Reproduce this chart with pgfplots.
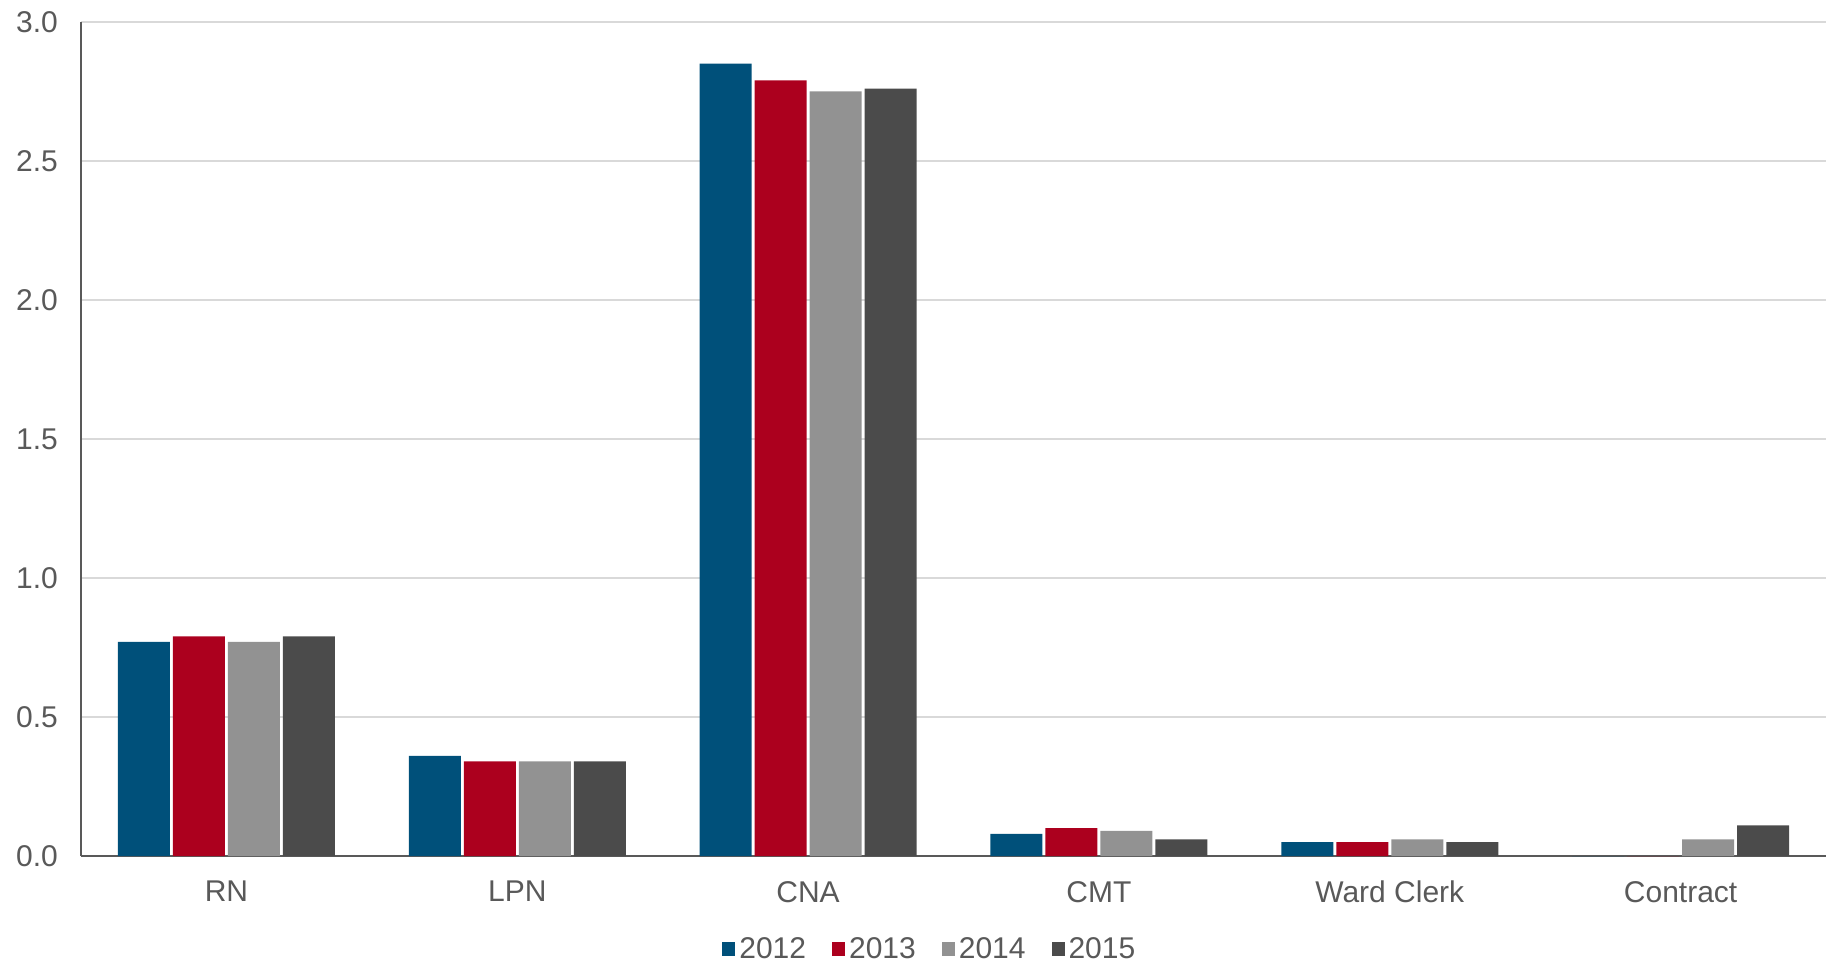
\documentclass[border=0pt]{standalone}
\usepackage{pgfplots}
\pgfplotsset{compat=1.18}
\usepackage{fontspec}
\setmainfont{Liberation Sans}

\definecolor{c2012}{RGB}{0,80,122}
\definecolor{c2013}{RGB}{172,0,30}
\definecolor{c2014}{RGB}{146,146,146}
\definecolor{c2015}{RGB}{75,75,75}
\definecolor{axgray}{RGB}{89,89,89}
\definecolor{gridgray}{RGB}{217,217,217}
\definecolor{txtgray}{RGB}{89,89,89}

\begin{document}
\begin{tikzpicture}
  \begin{axis}[
      at={(0,0)}, anchor=south west,
      scale only axis,
      width=872.5pt, height=417pt,
      ybar=1.5pt,
      bar width=26pt,
      xmin=-0.5, xmax=5.5,
      ymin=0, ymax=3,
      xtick={0,1,2,3,4,5},
      xticklabels={RN,LPN,CNA,CMT,Ward Clerk,Contract},
      ytick={0,0.5,1,1.5,2,2.5,3},
      /pgf/number format/fixed,
      /pgf/number format/fixed zerofill,
      /pgf/number format/precision=1,
      /pgf/number format/assume math mode=true,
      yticklabel style={xshift=-8pt},
      xticklabel style={yshift=-9pt},
      major tick length=0pt,
      tick style={draw=none},
      axis x line*=bottom,
      axis y line*=left,
      axis line style={draw=axgray, line width=1pt},
      ymajorgrids,
      grid style={draw=gridgray, line width=0.6pt},
      tick label style={font=\fontsize{15}{17}\selectfont, text=txtgray},
      legend columns=4,
      legend style={at={(0.487,-0.112)}, anchor=center, draw=none,
        font=\fontsize{15}{17}\selectfont, text=txtgray,
        /tikz/every even column/.append style={column sep=11pt}},
      legend image code/.code={\fill (0pt,-3.5pt) rectangle (6.5pt,3.5pt);},
      legend cell align=left,
    ]
    \addplot[fill=c2012, draw=none] coordinates {(0,0.77) (1,0.36) (2,2.85) (3,0.08) (4,0.05) (5,0)};
    \addplot[fill=c2013, draw=none] coordinates {(0,0.79) (1,0.34) (2,2.79) (3,0.10) (4,0.05) (5,0)};
    \addplot[fill=c2014, draw=none] coordinates {(0,0.77) (1,0.34) (2,2.75) (3,0.09) (4,0.06) (5,0.06)};
    \addplot[fill=c2015, draw=none] coordinates {(0,0.79) (1,0.34) (2,2.76) (3,0.06) (4,0.05) (5,0.11)};
    \legend{2012,2013,2014,2015}
  \end{axis}
  \path[use as bounding box] (-40.5pt,-53.5pt) rectangle (879pt,428pt);
\end{tikzpicture}
\end{document}
